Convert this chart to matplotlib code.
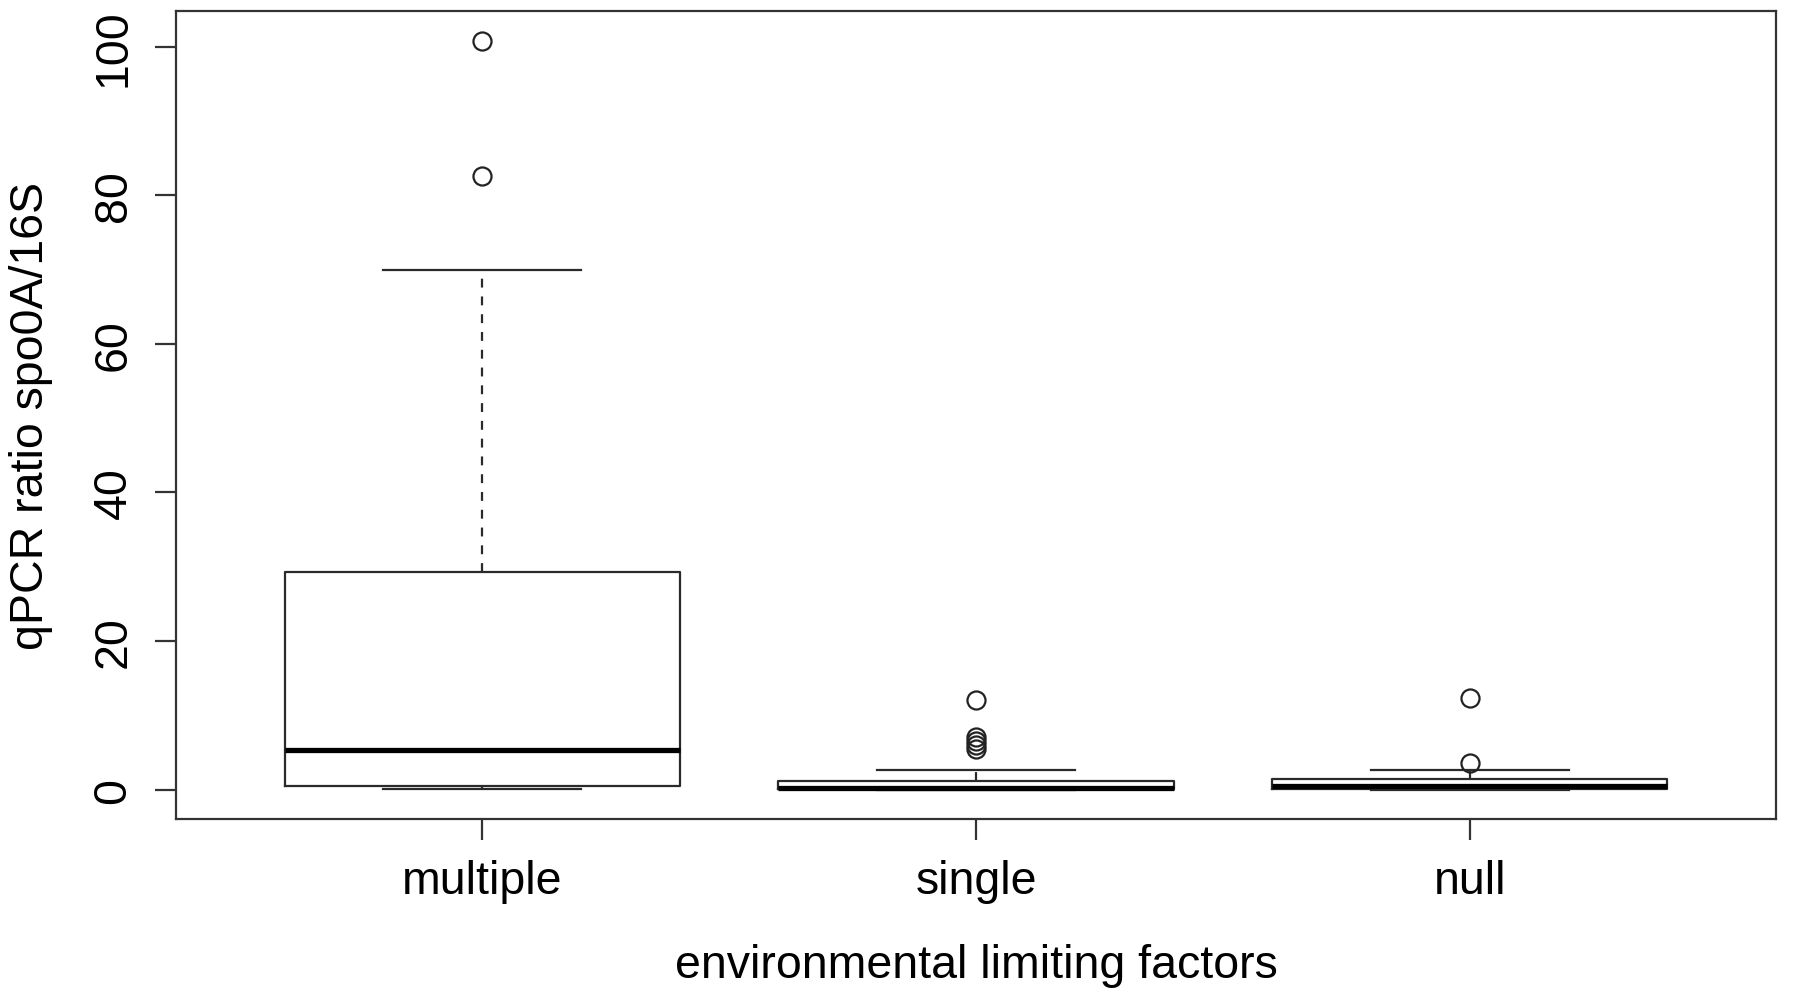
import matplotlib
matplotlib.use("Agg")
import matplotlib.pyplot as plt

plt.rcParams['font.family'] = ['Liberation Sans', 'DejaVu Sans']

categories = ["multiple", "single", "null"]
whisker_low = [0.1, 0.0, 0.0]
q1 = [0.55, 0.05, 0.1]
medians = [5.4, 0.25, 0.55]
q3 = [29.3, 1.2, 1.45]
whisker_high = [70.0, 2.6, 2.6]
outliers = [
    [82.6, 100.8],
    [5.5, 6.0, 6.5, 7.1, 12.0],
    [3.6, 12.4],
]
y_ticks = [0, 20, 40, 60, 80, 100]

stats = []
for i, c in enumerate(categories):
    stats.append(dict(label=c, whislo=whisker_low[i], q1=q1[i], med=medians[i],
                      q3=q3[i], whishi=whisker_high[i], fliers=outliers[i]))

W, H = 1800, 995
fig = plt.figure(figsize=(W / 100, H / 100), dpi=100)
L, R, T, B = 176, 1776, 12, 820
ax = fig.add_axes([L / W, 1 - B / H, (R - L) / W, (B - T) / H])

lc = '#2a2a2a'
ax.bxp(stats, positions=[1, 2, 3], widths=0.8, showfliers=True,
       boxprops=dict(color=lc, linewidth=1.6),
       medianprops=dict(color='black', linewidth=3.8, solid_capstyle='butt'),
       whiskerprops=dict(color=lc, linewidth=1.6, linestyle=(0, (4, 4))),
       capprops=dict(color=lc, linewidth=1.6),
       capwidths=0.4,
       flierprops=dict(marker='o', markersize=13, markerfacecolor='none',
                       markeredgecolor='#222222', markeredgewidth=1.6))

ax.set_xlim(0.38, 3.62)
ax.set_ylim(-3.95, 104.8)
ax.set_yticks(y_ticks)
ax.set_yticklabels([str(v) for v in y_ticks], rotation=90, va='center', ha='center')
ax.set_xticks([1, 2, 3])
ax.set_xticklabels(categories)

for s in ax.spines.values():
    s.set_color('#333333')
    s.set_linewidth(1.6)

fs = 33.5
ax.tick_params(axis='both', direction='out', length=15, width=1.6, color='#333333',
               labelsize=fs, labelcolor='black')
ax.tick_params(axis='x', pad=14)
ax.tick_params(axis='y', pad=30)

ax.set_xlabel("environmental limiting factors", fontsize=fs, va='center')
ax.xaxis.set_label_coords(0.5, (B - 966) / (B - T))
ax.set_ylabel("qPCR ratio spo0A/16S", fontsize=fs, va='center')
ax.yaxis.set_label_coords((31 - L) / (R - L), 0.5)

fig.savefig("out.png", dpi=100, facecolor='white')
